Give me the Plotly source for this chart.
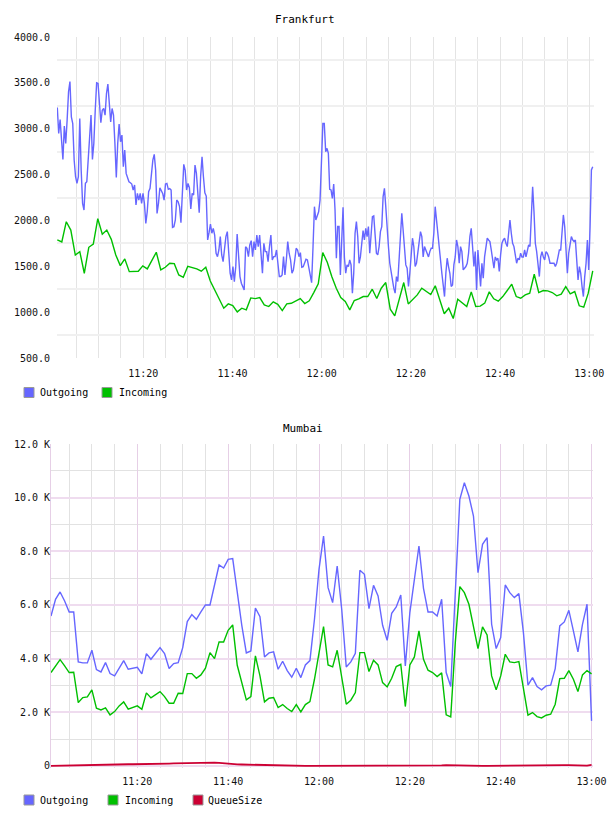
import plotly.graph_objects as go
import pandas as pd

DAY = "2024-01-01 "

# ---------------- Frankfurt data ----------------
fra_out_a = [
    3232, 2948, 3101, 2876, 2665, 3028, 2840, 3094, 3402, 3515,
    3130, 3057, 2658, 2476, 2404, 2476, 3112, 2549, 2186, 2113,
    2404, 2422, 2658, 2912, 3148, 2665, 2840, 3202, 3500, 3493,
    3275, 3065, 3202, 3221, 3148, 3384, 3486, 3275, 3075, 3221,
    3148, 2840, 2469, 2840, 3050, 2858, 2930, 2585, 2767, 2513,
    2476, 2422, 2411, 2397, 2331, 2386, 2168, 2295, 2222, 2295,
    2186, 2295, 2186, 1968, 2095, 2313, 2350, 2513, 2658, 2720,
    2549, 2077, 2186, 2357, 2331, 2295, 2222, 2397, 2404, 2339,
    2346, 2331, 1925, 1932, 2005, 2222, 2204, 2150, 1976, 2368,
    2611, 2549, 2331, 2404, 2357, 2124, 2295, 2277, 2604, 2513,
    2331, 2084, 2476, 2694, 2476, 2302, 2266, 1787, 1867, 1961,
    1860, 1914, 1841, 1642, 1605, 1678, 1823, 1623, 1551, 1732,
    1823, 1878, 1623, 1424, 1351, 1496, 1333, 1496, 1852, 1605,
    1388, 1315, 1279, 1242, 1714, 1696, 1605, 1732, 1780, 1605,
    1769, 1678, 1841, 1714, 1841, 1569, 1424, 1751, 1660, 1660,
    1551, 1714, 1841, 1569, 1605, 1605, 1678, 1533, 1388, 1388,
    1406, 1605, 1406, 1569, 1769, 1642, 1569, 1424, 1460, 1569,
    1696, 1678, 1605, 1649, 1489, 1496, 1533, 1576, 1569, 1496,
    1388, 1322, 1714, 2150, 2005, 2041, 2095, 2222, 2658, 3057,
    3057,
]
fra_out_b = [
    2749, 2786, 2731, 2339, 2332, 2241, 2397, 2114, 1588, 1933,
    1933, 1406, 1751, 2143, 1602, 1424, 1515, 1497, 1570, 1515,
    1207, 1424, 1860, 1987, 1824, 1533, 1602, 1751, 1889, 1787,
    1914, 1824, 1933, 1642, 1860, 2042, 2049, 1878, 1642, 1624,
    1715, 1878, 1933, 2259, 2350, 2150, 1896, 1715, 1533, 1424,
    1316, 1261, 1207, 1388, 1334, 1602, 1896, 2078, 1896, 1715,
    1515, 1479, 1279, 1424, 1602, 1806, 1715, 1497, 1533, 1660,
    1787, 1878, 1824, 1602, 1715, 1678, 1624, 1602, 1660, 1697,
    1697, 1860, 2150, 2005, 1787, 1715, 1533, 1424, 1297, 1170,
    1424, 1588, 1497, 1424, 1279, 1297, 1515, 1602, 1787, 1715,
    1533, 1715, 1660, 1461, 1479, 1497, 1533, 1642, 1824, 1914,
    1715, 1497, 1660, 1243, 1678, 1461, 1279, 1533, 1370, 1602,
    1715, 1806, 1787, 1769, 1678, 1570, 1479, 1602, 1570, 1588,
    1443, 1624, 1751, 1787, 1806, 1751, 1715, 1860, 2005, 1860,
    1751, 1715, 1624, 1533, 1588, 1570, 1642, 1602, 1602, 1678,
    1602, 1678, 1733, 1715, 2114, 2368, 2096, 1751, 1660, 1533,
    1388, 1602, 1660, 1602, 1570, 1660, 1642, 1602, 1533, 1533,
    1533, 1533, 1497, 1533, 1602, 1678, 1678, 1860, 2060, 1933,
    1642, 1424, 1642, 1715, 1824, 1787, 1769, 1787, 1533, 1352,
    1497, 1424, 1279, 1170, 1388, 1533, 1787, 1461, 1933, 2550,
    2586,
]
fra_in = [
    1787, 1765, 1986, 1895, 1623, 1660, 1424, 1707, 1743, 2019,
    1849, 1895, 1794, 1623, 1507, 1580, 1442, 1446, 1446, 1504,
    1471, 1562, 1653, 1460, 1489, 1533, 1529, 1406, 1380, 1500,
    1489, 1471, 1446, 1489, 1340, 1242, 1152, 1043, 1090, 1072,
    1003, 1043, 1025, 1155, 1148, 1159, 1079, 1061, 1112, 1086,
    1017, 1090, 1097, 1126, 1148, 1094, 1123, 1213, 1308,
    1649, 1544, 1388, 1261, 1159, 1116, 1025, 1127, 1145, 1170,
    1170, 1250, 1149, 1261, 1323, 1032, 960, 1134, 1323, 1090,
    1134, 1188, 1261, 1225, 1192, 1287, 1134, 982, 1043, 931,
    1141, 1105, 1061, 1221, 1061, 1065, 1098, 1221, 1145, 1119,
    1170, 1236, 1305, 1170, 1152, 1188, 1207, 1413, 1214, 1236,
    1232, 1214, 1178, 1196, 1279, 1199, 1225, 1069, 1054, 1207,
    1450,
]
fra_yticks = [500, 1000, 1500, 2000, 2500, 3000, 3500, 4000]
fra_yticktext = ["500.0", "1000.0", "1500.0", "2000.0", "2500.0", "3000.0", "3500.0", "4000.0"]
fra_ygrid = [750, 1250, 1750, 2250, 2750, 3250, 3750]

# ---------------- Mumbai data ----------------
mum_out = [
    5589, 6210, 6483, 6148, 5738, 5738, 3875, 3838, 3838, 4310,
    3589, 3502, 3850, 3440, 3353, 3639, 3925, 3602, 3651, 3676,
    3428, 4186, 3974, 4186, 4409, 4186, 3627, 3813, 3850, 4409,
    5378, 5639, 5465, 5738, 5999, 5999, 6769, 7489, 7377, 7700,
    7725, 6396, 5241, 4210, 4285, 5887, 5564, 4061, 4210, 4248,
    3602, 3900, 3552, 3304, 3639, 3291, 3763, 3925, 5465,
    7328, 8570, 6645, 6086, 7452, 5837, 3689, 3875, 4198, 7291,
    7142, 5862, 6732, 6334, 5241, 4682, 5688, 5924, 6371, 3726,
    5713, 6893, 8197, 6620, 5738, 5738, 5589, 6210, 3478, 2956,
    6583, 9936, 10557, 10060, 9315, 7204, 8259, 8508, 5279, 4372,
    4782, 6744, 6458, 6272, 6421, 4968, 3006, 3291, 2956, 2832,
    2981, 3006, 3627, 5216, 5365, 5800, 5030, 4248, 5279, 6024,
    1677,
]
mum_in = [
    3478, 3726, 3962, 3726, 3478, 3490, 2360, 2546, 2571, 2832,
    2149, 2087, 2161, 1900, 2024, 2236, 2385, 2111, 2161, 2236,
    2111, 2720, 2534, 2645, 2770, 2583, 2335, 2335, 2708, 2695,
    3440, 3440, 3266, 3391, 3639, 4223, 3999, 4620, 4620, 5055,
    5254, 3751, 3105, 2459, 2583, 4099, 3353, 2385, 2521, 2546,
    2174, 2285, 2136, 2024, 2285, 2012, 2285, 2397, 3229,
    4161, 5192, 3763, 3689, 4310, 3353, 2298, 2447, 2732, 4223,
    4223, 3515, 3937, 3763, 3105, 2944, 3266, 3701, 3788, 2211,
    3763, 4061, 5030, 3974, 3565, 3478, 3329, 3465, 1900, 1826,
    4595, 6682, 6458, 6024, 5216, 4372, 5179, 4881, 3353, 2832,
    3353, 4161, 3875, 3850, 3887, 2919, 1888, 1987, 1838, 1788,
    1888, 1925, 2298, 3254, 3266, 3552, 3229, 2770, 3391, 3552,
    3428,
]
mum_queue = [
    0, 5, 10, 15, 20, 25, 30, 30, 35, 40,
    40, 45, 45, 50, 50, 55, 55, 60, 60, 60,
    65, 65, 70, 70, 75, 80, 85, 90, 95, 100,
    110, 115, 115, 110, 110, 115, 120, 110, 90, 70,
    60, 55, 50, 45, 40, 35, 30, 25, 20, 15,
    10, 8, 5, 3, 2, 0, 0, 0, 0, 0,
    0, 0, 0, 0, 0, 0, 0, 0, 0, 0,
    0, 0, 0, 0, 0, 0, 0, 0, 10, 20,
    25, 20, 10, 0, 0, 0, 15, 30, 25, 10,
    0, 0, 0, 0, 0, 0, 0, 0, 0, 0,
    0, 0, 0, 0, 0, 0, 0, 0, 0, 0,
    0, 0, 10, 25, 30, 20, 10, 0, 10, 40,
]
mum_yticks = [0, 2000, 4000, 6000, 8000, 10000, 12000]
mum_yticktext = ["0", "2.0 K", "4.0 K", "6.0 K", "8.0 K", "10.0 K", "12.0 K"]
mum_yminor = [1000, 3000, 5000, 7000, 9000, 11000]

series_names = ["Outgoing", "Incoming", "QueueSize"]
series_colors = ["#6666ff", "#00c000", "#cc0033"]

# ---------------- time axes ----------------
fra_out_t = list(pd.date_range(DAY + "11:00:44", DAY + "12:00:35", periods=len(fra_out_a))) + \
            list(pd.date_range(DAY + "12:00:54", DAY + "13:00:46", periods=len(fra_out_b)))
fra_out = fra_out_a + fra_out_b
fra_in_t = list(pd.date_range(DAY + "11:00:44", DAY + "13:00:46", periods=len(fra_in)))
mum_t = list(pd.date_range(DAY + "11:01:00", periods=len(mum_out), freq="1min"))

FONT = "DejaVu Sans Mono"
W, H = 608, 816

fig = go.Figure()
fig.add_trace(go.Scatter(x=fra_out_t, y=fra_out, mode="lines", name=series_names[0],
                         line=dict(color=series_colors[0], width=1.4), xaxis="x", yaxis="y"))
fig.add_trace(go.Scatter(x=fra_in_t, y=fra_in, mode="lines", name=series_names[1],
                         line=dict(color=series_colors[1], width=1.4), xaxis="x", yaxis="y"))
fig.add_trace(go.Scatter(x=mum_t, y=mum_out, mode="lines", name=series_names[0],
                         line=dict(color=series_colors[0], width=1.4), xaxis="x2", yaxis="y2"))
fig.add_trace(go.Scatter(x=mum_t, y=mum_in, mode="lines", name=series_names[1],
                         line=dict(color=series_colors[1], width=1.4), xaxis="x2", yaxis="y2"))
fig.add_trace(go.Scatter(x=mum_t, y=mum_queue, mode="lines", name=series_names[2],
                         line=dict(color=series_colors[2], width=1.8), xaxis="x2", yaxis="y2"))

tickfont = dict(family=FONT, size=10, color="#111")

fig.update_layout(
    width=W, height=H, margin=dict(l=0, r=0, t=0, b=0, autoexpand=False),
    paper_bgcolor="white", plot_bgcolor="white", showlegend=False,
    xaxis=dict(
        domain=[57 / W, 594 / W], anchor="y", type="date", automargin=False,
        range=[DAY + "11:00:40", DAY + "13:01:03"],
        tickformat="%H:%M", tick0=DAY + "11:00", dtick=20 * 60 * 1000,
        showgrid=True, gridcolor="#e4e4e4", gridwidth=1,
        zeroline=False, showline=False, ticks="", tickfont=tickfont,
        ticklabelstandoff=8,
        minor=dict(tick0=DAY + "11:00", dtick=5 * 60 * 1000, showgrid=True,
                   gridcolor="#e4e4e4", gridwidth=1),
    ),
    yaxis=dict(
        domain=[1 - 358 / H, 1 - 37 / H], anchor="x", range=[500, 4000], automargin=False,
        tickmode="array", tickvals=fra_yticks, ticktext=fra_yticktext,
        showgrid=False, zeroline=False, showline=False, ticks="", tickfont=tickfont,
        ticklabelstandoff=6,
        minor=dict(tickmode="array", tickvals=fra_ygrid, showgrid=True,
                   gridcolor="#f0f0f0", gridwidth=2),
    ),
    xaxis2=dict(
        domain=[51 / W, 593 / W], anchor="y2", type="date", automargin=False,
        range=[DAY + "11:01:00", DAY + "13:00:19"],
        tickformat="%H:%M", tick0=DAY + "11:00", dtick=20 * 60 * 1000,
        showgrid=True, gridcolor="#e6cfe6", gridwidth=1,
        zeroline=False, showline=False, ticks="", tickfont=tickfont,
        ticklabelstandoff=6,
        minor=dict(tick0=DAY + "11:00", dtick=5 * 60 * 1000, showgrid=True,
                   gridcolor="#e2e2e2", gridwidth=1),
    ),
    yaxis2=dict(
        domain=[1 - 768 / H, 1 - 444 / H], anchor="x2", range=[-80, 12000], automargin=False,
        tickmode="array", tickvals=mum_yticks, ticktext=mum_yticktext,
        showgrid=True, gridcolor="#efdcef", gridwidth=2,
        zeroline=False, showline=True, linecolor="#e6cfe6", linewidth=1,
        ticks="", tickfont=tickfont, ticklabelstandoff=-2,
        minor=dict(tickmode="array", tickvals=mum_yminor, showgrid=True,
                   gridcolor="#e2e2e2", gridwidth=1),
    ),
)

# titles
fig.add_annotation(text="Frankfurt", x=305 / W, y=1 - 19 / H, xref="paper", yref="paper",
                   showarrow=False, xanchor="center", yanchor="middle",
                   font=dict(family=FONT, size=11, color="#000"))
fig.add_annotation(text="Mumbai", x=303 / W, y=1 - 428 / H, xref="paper", yref="paper",
                   showarrow=False, xanchor="center", yanchor="middle",
                   font=dict(family=FONT, size=11, color="#000"))

# custom legends (square swatch + label)
def legend_item(x_sq, x_txt, y_c, name, color):
    fig.add_shape(type="rect", xref="paper", yref="paper",
                  x0=x_sq / W, x1=(x_sq + 10) / W,
                  y0=1 - (y_c + 5) / H, y1=1 - (y_c - 5) / H,
                  fillcolor=color, line=dict(color="#999999", width=1))
    fig.add_annotation(text=name, x=x_txt / W, y=1 - y_c / H, xref="paper", yref="paper",
                       showarrow=False, xanchor="left", yanchor="middle",
                       font=dict(family=FONT, size=10, color="#000"))

legend_item(24, 38, 392.5, series_names[0], series_colors[0])
legend_item(102, 117, 392.5, series_names[1], series_colors[1])
legend_item(24, 38, 800, series_names[0], series_colors[0])
legend_item(108, 123, 800, series_names[1], series_colors[1])
legend_item(193, 206, 800, series_names[2], series_colors[2])

fig.write_html("out.html")
